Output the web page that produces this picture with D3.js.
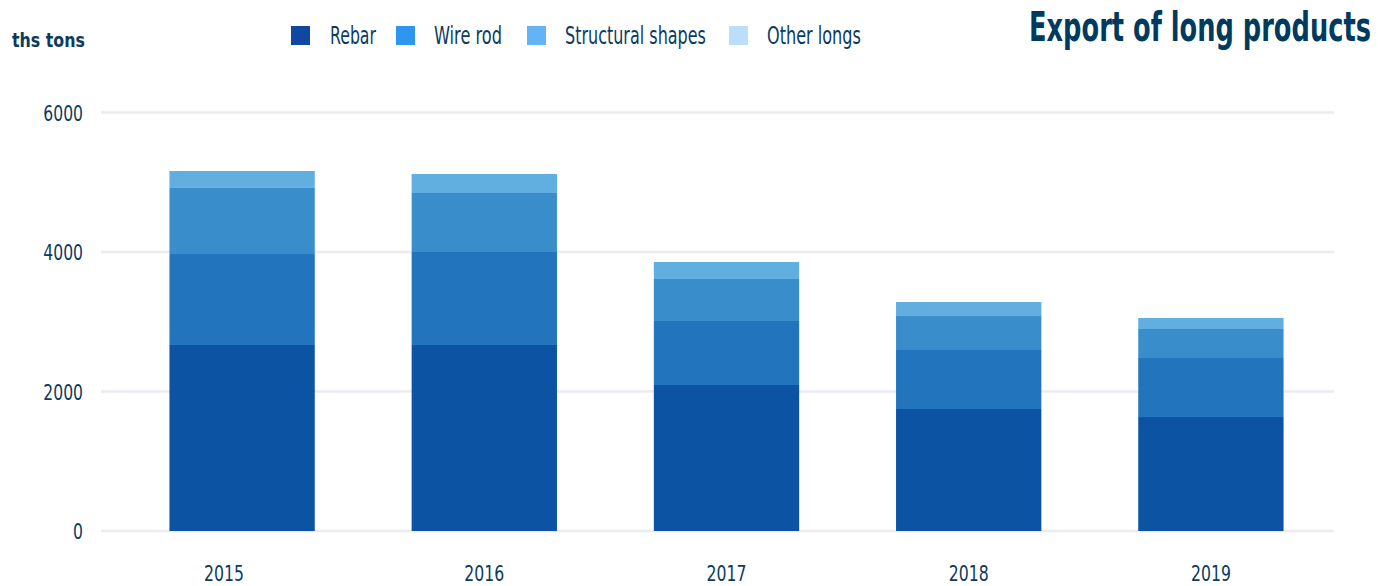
<!DOCTYPE html>
<html>
<head>
<meta charset="utf-8">
<script src="https://cdn.jsdelivr.net/npm/d3@7"></script>
<style>
  html, body { margin: 0; padding: 0; background: #fff; }
  svg { display: block; }
  text { font-family: "DejaVu Sans", "Liberation Sans", sans-serif; }
</style>
</head>
<body>
<svg id="chart" width="1378" height="586"></svg>
<script>
const years = ["2015", "2016", "2017", "2018", "2019"];
const seriesNames = ["Rebar", "Wire rod", "Structural shapes", "Other longs"];
const rebar = [2667, 2667, 2093, 1749, 1634];
const wireRod = [1304, 1333, 918, 846, 846];
const structural = [947, 846, 602, 487, 416];
const otherLongs = [243, 272, 244, 201, 158];
const yTicks = [0, 2000, 4000, 6000];
const legendColors = ["#0f47a1", "#2e96ee", "#63b4f6", "#bbdefb"];
const barColors = ["#0c53a4", "#2275bc", "#3a8dcb", "#61afe0"];

const svg = d3.select("#chart");
const textColor = "#0d3b5e";

// condense text horizontally around its anchor x (the reference uses a condensed face)
function condenseBy(node, k) {
  const ax = +(node.getAttribute("x") || 0);
  d3.select(node).attr("transform", `translate(${ax},0) scale(${k},1) translate(${-ax},0)`);
}
function squeeze(sel, factor) {
  sel.each(function () { condenseBy(this, factor); });
}
function fitWidth(sel, width) {
  sel.each(function () {
    const w = this.getComputedTextLength();
    condenseBy(this, width / w);
  });
}

const table = years.map((y, i) => ({
  year: y,
  "Rebar": rebar[i],
  "Wire rod": wireRod[i],
  "Structural shapes": structural[i],
  "Other longs": otherLongs[i]
}));
const stacked = d3.stack().keys(seriesNames)(table);

const x = d3.scaleBand().domain(years).range([121, 1332]).paddingInner(0.4).paddingOuter(0.2);
const y = d3.scaleLinear().domain([0, 6000]).range([531, 112.5]);

// grid
svg.append("g").selectAll("line").data(yTicks).join("line")
  .attr("x1", 101).attr("x2", 1334)
  .attr("y1", d => y(d)).attr("y2", d => y(d))
  .attr("stroke", "#ebebf0").attr("stroke-width", 2.5);

// y axis labels
const yAxis = d3.axisLeft(y).tickValues(yTicks).tickSize(0).tickPadding(0).tickFormat(d3.format("d"));
const ya = svg.append("g").attr("transform", "translate(83,0)").call(yAxis);
ya.select(".domain").remove();
ya.selectAll("text").attr("fill", textColor).style("font-size", "22px").attr("dy", "0.36em")
  .attr("x", 0).call(squeeze, 0.71);

// x axis labels
const xAxis = d3.axisBottom(x).tickSize(0).tickPadding(0);
const xa = svg.append("g").attr("transform", "translate(0,580.5)").call(xAxis);
xa.select(".domain").remove();
xa.selectAll("text").attr("fill", textColor).style("font-size", "22px").attr("y", 0).attr("dy", 0)
  .attr("x", (d, i) => (i === 0 ? -18 : 0)).call(squeeze, 0.714);

// bars
svg.append("g").selectAll("g").data(stacked).join("g")
  .attr("fill", (d, i) => barColors[i])
  .selectAll("rect").data(d => d).join("rect")
  .attr("x", d => x(d.data.year))
  .attr("width", x.bandwidth())
  .attr("y", d => y(d[1]))
  .attr("height", d => y(d[0]) - y(d[1]));

// unit label
svg.append("text").attr("x", 12).attr("y", 47).text("ths tons")
  .attr("fill", textColor).style("font-size", "20px").style("font-weight", "bold")
  .call(fitWidth, 73);

// legend
const legendX = [291, 396, 527, 729];
const legendTextW = [46, 68, 141, 94];
const lg = svg.append("g").selectAll("g").data(seriesNames).join("g")
  .attr("transform", (d, i) => `translate(${legendX[i]},26)`);
lg.append("rect").attr("width", 19).attr("height", 19).attr("fill", (d, i) => legendColors[i]);
lg.append("text").attr("x", (d, i) => (i === 0 ? 39 : 38)).attr("y", 18).text(d => d)
  .attr("fill", textColor).style("font-size", "24.5px")
  .each(function (d, i) { fitWidth(d3.select(this), legendTextW[i]); });

// title
svg.append("text").attr("x", 1029).attr("y", 41)
  .text("Export of long products")
  .attr("fill", "#003a5e").style("font-size", "40px").style("font-weight", "bold")
  .call(fitWidth, 342);
</script>
</body>
</html>
